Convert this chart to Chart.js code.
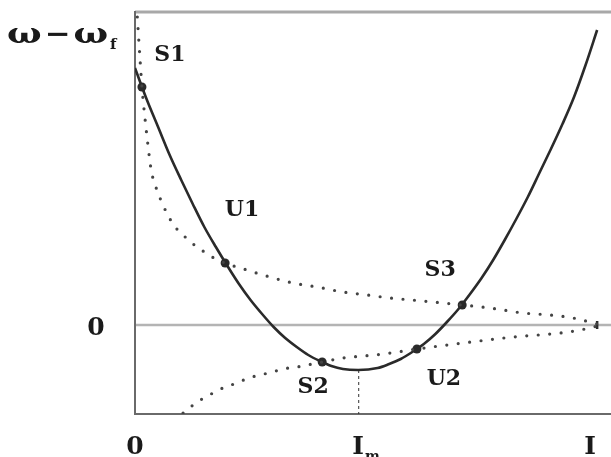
<!DOCTYPE html>
<html>
<head>
<meta charset="utf-8">
<script src="https://cdn.jsdelivr.net/npm/chart.js@4"></script>
<style>
  html, body { margin: 0; padding: 0; background: #fff; }
  #wrap { width: 611px; height: 457px; position: relative; }
</style>
</head>
<body>
<div id="wrap"><canvas id="c" width="611" height="457"></canvas></div>
<script>
// ---- data (x in units of I, y in units of ω−ω_f) ----
const solidX = [0.000, 0.025, 0.050, 0.075, 0.100, 0.125, 0.150, 0.175, 0.200, 0.225, 0.250, 0.275, 0.300, 0.325, 0.350, 0.375, 0.400, 0.425, 0.450, 0.483, 0.525, 0.550, 0.575, 0.600, 0.625, 0.650, 0.675, 0.700, 0.725, 0.750, 0.775, 0.800, 0.825, 0.850, 0.875, 0.900, 0.925, 0.950, 0.975, 1.000];
const solidY = [2.57, 2.26, 1.98, 1.70, 1.45, 1.21, 0.98, 0.78, 0.59, 0.41, 0.25, 0.11, -0.02, -0.13, -0.22, -0.30, -0.36, -0.41, -0.44, -0.45, -0.43, -0.39, -0.34, -0.27, -0.19, -0.09, 0.03, 0.16, 0.31, 0.47, 0.65, 0.85, 1.06, 1.28, 1.52, 1.76, 2.01, 2.28, 2.60, 2.95];

const upperX = [0.005, 0.011, 0.015, 0.022, 0.028, 0.035, 0.050, 0.071, 0.087, 0.104, 0.123, 0.147, 0.167, 0.195, 0.242, 0.292, 0.342, 0.394, 0.450, 0.502, 0.552, 0.623, 0.708, 0.768, 0.840, 0.898, 0.948, 1.000];
const upperY = [3.08, 2.65, 2.38, 2.05, 1.80, 1.55, 1.32, 1.10, 0.98, 0.90, 0.82, 0.74, 0.68, 0.62, 0.55, 0.48, 0.42, 0.38, 0.33, 0.30, 0.27, 0.24, 0.20, 0.17, 0.12, 0.10, 0.07, 0.01];

const lowerX = [0.104, 0.123, 0.145, 0.169, 0.195, 0.221, 0.245, 0.271, 0.297, 0.320, 0.351, 0.405, 0.450, 0.494, 0.537, 0.610, 0.710, 0.818, 0.920, 0.974, 1.000];
const lowerY = [-0.88, -0.81, -0.74, -0.68, -0.62, -0.58, -0.53, -0.50, -0.47, -0.44, -0.42, -0.37, -0.33, -0.31, -0.29, -0.24, -0.18, -0.12, -0.08, -0.04, -0.01];

const pointNames = ['S1', 'U1', 'S2', 'U2', 'S3'];
const pointX = [0.015, 0.195, 0.405, 0.610, 0.708];
const pointY = [2.38, 0.62, -0.37, -0.24, 0.20];

const xTickValues = [0, 0.483, 1];
const xTickLabels = ['0', 'I', 'I'];
const xTickSubs = ['', 'm', ''];
const yTickValues = [0];
const yTickLabels = ['0'];
const minX = 0.483, minY = -0.45;   // I_m and curve minimum
const meetX = 1.0, meetY = 0.0;

const yTitleA = 'ω';
const yTitleB = '−';
const yTitleSub = 'f';

// ---- helpers ----
const zip = (xs, ys) => xs.map((x, i) => ({ x: x, y: ys[i] }));
const labelOffsets = { S1: [28, -32], U1: [17, -53], S2: [-9, 25], U2: [27, 30], S3: [-22, -35] };
const SERIF = '"DejaVu Serif", "Liberation Serif", serif';

const decor = {
  id: 'decor',
  beforeDatasetsDraw(chart) {
    const { ctx, chartArea: a, scales: { x, y } } = chart;
    ctx.save();
    const y0 = y.getPixelForValue(0);
    ctx.strokeStyle = '#b4b4b4';
    ctx.lineWidth = 2.5;
    ctx.beginPath(); ctx.moveTo(a.left, y0); ctx.lineTo(a.right, y0); ctx.stroke();
    ctx.strokeStyle = '#a8a8a8';
    ctx.lineWidth = 3;
    ctx.beginPath(); ctx.moveTo(a.left, a.top); ctx.lineTo(a.right, a.top); ctx.stroke();
    ctx.strokeStyle = '#6a6a6a';
    ctx.lineWidth = 2;
    ctx.beginPath();
    ctx.moveTo(a.left, a.top - 1); ctx.lineTo(a.left, a.bottom); ctx.lineTo(a.right, a.bottom);
    ctx.stroke();
    const xm = x.getPixelForValue(minX);
    ctx.strokeStyle = '#333';
    ctx.lineWidth = 1;
    ctx.setLineDash([3, 3]);
    ctx.beginPath(); ctx.moveTo(xm + 0.5, y.getPixelForValue(minY)); ctx.lineTo(xm + 0.5, a.bottom); ctx.stroke();
    ctx.restore();
  },
  afterDraw(chart) {
    const { ctx, scales: { x, y } } = chart;
    ctx.save();
    ctx.fillStyle = '#1a1a1a';
    ctx.textBaseline = 'alphabetic';
    // x tick labels
    xTickValues.forEach((v, i) => {
      const px = x.getPixelForValue(v) - (i === 2 ? 7 : 0);
      ctx.font = 'bold 25px ' + SERIF;
      ctx.textAlign = 'center';
      ctx.fillText(xTickLabels[i], px, 454);
      if (xTickSubs[i]) {
        const w = ctx.measureText(xTickLabels[i]).width;
        ctx.font = 'bold 14px ' + SERIF;
        ctx.textAlign = 'left';
        ctx.fillText(xTickSubs[i], px + w / 2 + 1, 461);
      }
    });
    // y tick labels
    ctx.font = 'bold 25px ' + SERIF;
    ctx.textAlign = 'center';
    yTickValues.forEach((v, i) => {
      ctx.fillText(yTickLabels[i], 96, y.getPixelForValue(v) + 10);
    });
    // y title: ω − ω_f (omegas stretched to match the wide glyphs)
    ctx.textAlign = 'left';
    ctx.font = 'bold 28px ' + SERIF;
    const drawStretched = (t, px, py, sx) => {
      ctx.save(); ctx.translate(px, py); ctx.scale(sx, 1); ctx.fillText(t, 0, 0); ctx.restore();
      return ctx.measureText(t).width * sx;
    };
    let cx = 7;
    cx += drawStretched(yTitleA, cx, 43, 1.3);
    cx += 3;
    cx += drawStretched(yTitleB, cx, 43, 1.1);
    cx += 3;
    cx += drawStretched(yTitleA, cx, 43, 1.3);
    ctx.font = 'bold 15px ' + SERIF;
    ctx.fillText(yTitleSub, cx + 2, 49);
    // point labels
    ctx.font = 'bold 22px ' + SERIF;
    ctx.textAlign = 'center';
    ctx.textBaseline = 'middle';
    pointNames.forEach((n, i) => {
      const o = labelOffsets[n];
      ctx.fillText(n, x.getPixelForValue(pointX[i]) + o[0], y.getPixelForValue(pointY[i]) + o[1]);
    });
    ctx.restore();
  }
};

new Chart(document.getElementById('c'), {
  type: 'scatter',
  data: {
    datasets: [
      {
        data: zip(upperX, upperY), showLine: true, borderColor: '#444', borderWidth: 3.2,
        borderDash: [0, 11.5], borderCapStyle: 'round', pointRadius: 0, cubicInterpolationMode: 'monotone'
      },
      {
        data: zip(lowerX, lowerY), showLine: true, borderColor: '#444', borderWidth: 3.2,
        borderDash: [0, 11.5], borderCapStyle: 'round', pointRadius: 0, cubicInterpolationMode: 'monotone'
      },
      {
        data: zip(solidX, solidY), showLine: true, borderColor: '#2a2a2a', borderWidth: 2.6,
        pointRadius: 0, cubicInterpolationMode: 'monotone'
      },
      {
        data: zip(pointX, pointY), showLine: false, pointRadius: 4.5,
        pointBackgroundColor: '#2a2a2a', pointBorderWidth: 0
      },
      {
        data: [{ x: meetX, y: meetY }], showLine: false, pointStyle: 'line', rotation: 90,
        pointRadius: 4, borderColor: '#2a2a2a', pointBorderWidth: 2.5
      }
    ]
  },
  options: {
    responsive: false,
    animation: false,
    layout: { autoPadding: false, padding: { left: 135, top: 12, right: 0, bottom: 43 } },
    plugins: { legend: { display: false }, tooltip: { enabled: false } },
    scales: {
      x: { type: 'linear', min: 0, max: 1.03, display: false },
      y: { type: 'linear', min: -0.89, max: 3.13, display: false }
    }
  },
  plugins: [decor]
});
</script>
</body>
</html>
